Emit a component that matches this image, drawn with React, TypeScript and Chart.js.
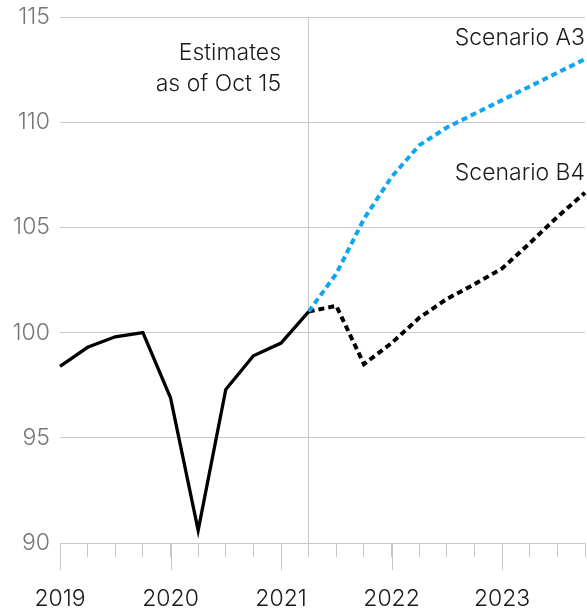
import { useEffect, useRef } from "react";
import { Chart, registerables } from "chart.js";

Chart.register(...registerables);

const quarters = [
  "2019 Q1", "2019 Q2", "2019 Q3", "2019 Q4",
  "2020 Q1", "2020 Q2", "2020 Q3", "2020 Q4",
  "2021 Q1", "2021 Q2", "2021 Q3", "2021 Q4",
  "2022 Q1", "2022 Q2", "2022 Q3", "2022 Q4",
  "2023 Q1", "2023 Q2", "2023 Q3", "2023 Q4",
];
const yearLabels = ["2019", "2020", "2021", "2022", "2023"];
const actual = [98.4, 99.3, 99.8, 100.0, 96.9, 90.6, 97.3, 98.9, 99.5, 101.0, null, null, null, null, null, null, null, null, null, null];
const scenarioA3 = [null, null, null, null, null, null, null, null, null, 101.0, 102.8, 105.4, 107.4, 108.9, 109.75, 110.4, 111.05, 111.7, 112.35, 113.0];
const scenarioB4 = [null, null, null, null, null, null, null, null, null, 101.0, 101.27, 98.5, 99.5, 100.7, 101.6, 102.3, 103.05, 104.25, 105.5, 106.65];
const yMin = 90;
const yMax = 115;
const yStep = 5;

const FONT = "Inter, 'Liberation Sans', Arial, sans-serif";

const extrasPlugin = {
  id: "extras",
  afterDraw(chart: any) {
    const { ctx, chartArea } = chart;
    const x = chart.scales.x;
    ctx.save();
    ctx.strokeStyle = "#c8c8c8";
    ctx.lineWidth = 1;
    quarters.forEach((_q, i) => {
      if (i % 4 === 0) {
        const px = Math.round(x.getPixelForValue(i)) + 0.5;
        ctx.beginPath();
        ctx.moveTo(px, chartArea.bottom);
        ctx.lineTo(px, chartArea.bottom + 27);
        ctx.stroke();
      }
    });
    ctx.fillStyle = "#1a1a1a";
    ctx.font = `300 23px ${FONT}`;
    ctx.textAlign = "right";
    ctx.textBaseline = "middle";
    const estRight = x.getPixelForValue(8);
    ctx.fillText("Estimates", estRight, chartArea.top + 36);
    ctx.fillText("as of Oct 15", estRight, chartArea.top + 67);
    ctx.fillText("Scenario A3", chartArea.right, chartArea.top + 21);
    ctx.fillText("Scenario B4", chartArea.right, chartArea.top + 156);
    ctx.restore();
  },
};

export default function App() {
  const ref = useRef<HTMLCanvasElement | null>(null);
  useEffect(() => {
    if (!ref.current) return;
    const chart = new Chart(ref.current, {
      type: "line",
      data: {
        labels: quarters,
        datasets: [
          {
            label: "Actual",
            data: actual,
            borderColor: "#000000",
            borderWidth: 3.3,
            pointRadius: 0,
            tension: 0,
            spanGaps: false,
          },
          {
            label: "Scenario A3",
            data: scenarioA3,
            borderColor: "#0ea5f2",
            borderWidth: 4,
            borderDash: [6, 4],
            pointRadius: 0,
            tension: 0,
          },
          {
            label: "Scenario B4",
            data: scenarioB4,
            borderColor: "#000000",
            borderWidth: 4,
            borderDash: [6, 4],
            pointRadius: 0,
            tension: 0,
          },
        ],
      },
      options: {
        animation: false,
        responsive: true,
        maintainAspectRatio: false,
        layout: { padding: { top: 17, right: 2, left: 0, bottom: 0 } },
        plugins: { legend: { display: false }, tooltip: { enabled: false } },
        scales: {
          x: {
            type: "category",
            offset: false,
            border: { display: true, color: "#c8c8c8" },
            grid: {
              drawOnChartArea: true,
              drawTicks: true,
              tickLength: 14,
              tickColor: "#c8c8c8",
              color: (c: any) => (c.index === 9 ? "#c8c8c8" : "rgba(0,0,0,0)"),
            },
            ticks: {
              autoSkip: false,
              maxRotation: 0,
              minRotation: 0,
              padding: 28,
              color: "#1a1a1a",
              font: { family: FONT, size: 23, weight: "300" },
              callback: (_v: any, i: number) => (i % 4 === 0 ? yearLabels[i / 4] : ""),
            },
            afterFit: (s: any) => {
              s.height = 67;
              s.paddingLeft = 0;
              s.paddingRight = 0;
            },
          },
          y: {
            min: yMin,
            max: yMax,
            border: { display: false },
            grid: { color: "#c8c8c8", drawTicks: false },
            ticks: {
              stepSize: yStep,
              padding: 10,
              color: "#777777",
              font: { family: FONT, size: 23, weight: "300" },
            },
            afterFit: (s: any) => {
              s.width = 60;
              s.paddingTop = 0;
              s.paddingBottom = 0;
            },
          },
        },
      },
      plugins: [extrasPlugin],
    });
    return () => chart.destroy();
  }, []);
  return (
    <div style={{ position: "fixed", left: 0, top: 0, width: 587, height: 610, background: "#fff" }}>
      <canvas ref={ref} />
    </div>
  );
}
